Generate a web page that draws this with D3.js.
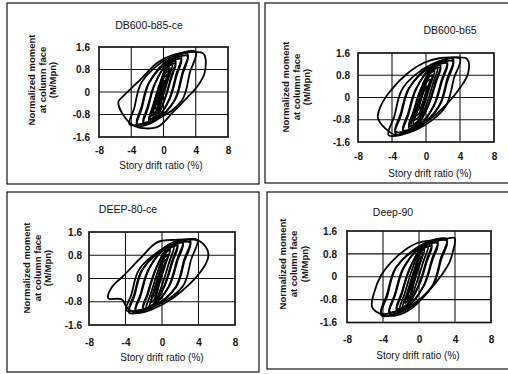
<!DOCTYPE html>
<html>
<head>
<meta charset="utf-8">
<script src="https://cdn.jsdelivr.net/npm/d3@7"></script>
<style>
  html, body { margin: 0; padding: 0; background: #fff; }
  svg { display: block; font-family: "Liberation Sans", Arial, sans-serif; }
</style>
</head>
<body>
<div id="chart"></div>
<script>
const xTicks = [-8, -4, 0, 4, 8]
const yTicks = [-1.6, -0.8, 0, 0.8, 1.6]
const xTickLabels = ['-8', '-4', '0', '4', '8']
const yTickLabels = ['-1.6', '-0.8', '0', '0.8', '1.6']
const titles = ['DB600-b85-ce', 'DB600-b65', 'DEEP-80-ce', 'Deep-90']
const yLabelLines = ['Normalized moment', 'at column face', '(M/Mpn)']
const xLabel = 'Story drift ratio (%)'

// hysteresis loops: [story drift %, M/Mpn], one array per cycle
const loopsB85ce = [
  [[0.15, 0.4], [-0.05, 0.2], [-0.35, -0.1], [-0.6, -0.35], [-0.85, -0.45], [-0.65, -0.2], [-0.35, 0.1], [-0.05, 0.35]],
  [[0.45, 0.6], [0.15, 0.3], [-0.3, -0.15], [-0.7, -0.51], [-1.1, -0.6], [-0.8, -0.3], [-0.35, 0.15], [0.05, 0.51]],
  [[0.65, 0.75], [0.3, 0.4], [-0.3, -0.2], [-0.8, -0.62], [-1.3, -0.75], [-0.95, -0.4], [-0.4, 0.2], [0.15, 0.63]],
  [[0.8, 0.85], [0.38, 0.43], [-0.26, -0.21], [-0.88, -0.72], [-1.5, -0.85], [-1.08, -0.43], [-0.44, 0.21], [0.18, 0.72]],
  [[1.1, 0.98], [0.62, 0.5], [-0.15, -0.24], [-0.85, -0.8], [-1.65, -0.95], [-1.15, -0.48], [-0.45, 0.25], [0.35, 0.85]],
  [[1.5, 1.1], [0.95, 0.55], [0.14, -0.26], [-0.83, -0.89], [-1.8, -1.05], [-1.28, -0.53], [-0.47, 0.28], [0.52, 0.94]],
  [[1.5, 1.02], [0.98, 0.5], [0.2, -0.22], [-0.8, -0.82], [-1.8, -0.98], [-1.3, -0.48], [-0.5, 0.24], [0.5, 0.88]],
  [[2.2, 1.25], [1.58, 0.63], [0.66, -0.29], [-0.92, -0.98], [-2.5, -1.15], [-1.93, -0.58], [-1.04, 0.31], [0.58, 1.06]],
  [[2.2, 1.17], [1.62, 0.58], [0.75, -0.26], [-0.9, -0.92], [-2.5, -1.07], [-1.96, -0.52], [-1.1, 0.28], [0.55, 1.0]],
  [[3.0, 1.35], [2.33, 0.68], [1.35, -0.3], [-0.98, -1.02], [-3.3, -1.2], [-2.7, -0.6], [-1.76, 0.34], [0.62, 1.15]],
  [[3.0, 1.28], [2.38, 0.64], [1.45, -0.27], [-0.95, -0.96], [-3.3, -1.12], [-2.75, -0.55], [-1.85, 0.3], [0.6, 1.08]],
  [[4.0, 1.42], [3.29, 0.71], [2.29, -0.29], [-0.96, -0.98], [-4.2, -1.15], [-3.63, -0.58], [-2.69, 0.36], [0.66, 1.21]],
  [[5.0, 1.35], [5.1, 0.68], [4.15, 0.18], [2.9, -0.21], [1.2, -0.71], [-0.8, -1.25], [-3.5, -1.22], [-4.8, -0.9], [-5.6, -0.35], [-5.0, -0.15], [-2.9, 0.43], [-0.8, 1.03], [1.2, 1.32], [3.3, 1.42]]
]
const loopsB65 = [
  [[0.2, 0.4], [0.0, 0.2], [-0.3, -0.1], [-0.6, -0.35], [-0.9, -0.45], [-0.7, -0.2], [-0.4, 0.1], [-0.05, 0.35]],
  [[0.5, 0.65], [0.18, 0.33], [-0.31, -0.16], [-0.76, -0.55], [-1.2, -0.65], [-0.88, -0.33], [-0.39, 0.16], [0.06, 0.55]],
  [[0.75, 0.8], [0.35, 0.4], [-0.25, -0.2], [-0.8, -0.68], [-1.35, -0.8], [-0.95, -0.4], [-0.35, 0.2], [0.2, 0.68]],
  [[1.0, 0.95], [0.53, 0.48], [-0.19, -0.24], [-0.85, -0.81], [-1.5, -0.95], [-1.03, -0.48], [-0.31, 0.24], [0.35, 0.81]],
  [[1.35, 1.05], [0.85, 0.53], [0.05, -0.26], [-0.85, -0.86], [-1.75, -1.02], [-1.25, -0.5], [-0.45, 0.27], [0.45, 0.9]],
  [[1.7, 1.15], [1.13, 0.58], [0.27, -0.28], [-0.87, -0.94], [-2.0, -1.1], [-1.45, -0.55], [-0.61, 0.29], [0.55, 0.98]],
  [[1.7, 1.07], [1.16, 0.53], [0.33, -0.25], [-0.85, -0.88], [-2.0, -1.03], [-1.48, -0.5], [-0.67, 0.26], [0.53, 0.92]],
  [[2.5, 1.3], [1.85, 0.65], [0.89, -0.31], [-0.91, -1.06], [-2.7, -1.25], [-2.08, -0.63], [-1.12, 0.33], [0.69, 1.11]],
  [[2.5, 1.22], [1.9, 0.6], [0.96, -0.28], [-0.88, -1.0], [-2.7, -1.17], [-2.12, -0.58], [-1.2, 0.3], [0.66, 1.05]],
  [[3.2, 1.38], [2.51, 0.69], [1.49, -0.33], [-1.06, -1.11], [-3.6, -1.3], [-2.95, -0.65], [-1.95, 0.35], [0.63, 1.17]],
  [[3.2, 1.3], [2.56, 0.64], [1.58, -0.3], [-1.0, -1.05], [-3.6, -1.22], [-3.0, -0.6], [-2.03, 0.32], [0.6, 1.1]],
  [[4.0, 1.4], [3.3, 0.7], [2.26, -0.34], [-1.07, -1.15], [-4.4, -1.35], [-3.73, -0.68], [-2.7, 0.35], [0.65, 1.19]],
  [[4.85, 1.38], [4.96, 0.87], [4.03, 0.36], [2.5, -0.22], [0.18, -0.84], [-2.16, -1.2], [-3.5, -1.35], [-4.73, -1.13], [-5.66, -0.73], [-5.3, -0.29], [-4.15, 0.25], [-2.16, 0.87], [-0.3, 1.24], [1.7, 1.42], [3.5, 1.44]]
]
const loopsDeep80ce = [
  [[0.2, 0.45], [-0.02, 0.22], [-0.35, -0.1], [-0.65, -0.38], [-0.9, -0.48], [-0.68, -0.22], [-0.38, 0.1], [-0.05, 0.38]],
  [[0.45, 0.65], [0.13, 0.33], [-0.36, -0.16], [-0.73, -0.55], [-1.1, -0.65], [-0.78, -0.33], [-0.29, 0.16], [0.08, 0.55]],
  [[0.65, 0.82], [0.25, 0.42], [-0.35, -0.2], [-0.8, -0.7], [-1.25, -0.82], [-0.85, -0.42], [-0.25, 0.2], [0.22, 0.7]],
  [[0.9, 1.0], [0.4, 0.5], [-0.35, -0.25], [-0.88, -0.85], [-1.4, -1.0], [-0.9, -0.5], [-0.15, 0.25], [0.38, 0.85]],
  [[1.3, 1.1], [0.78, 0.55], [-0.05, -0.27], [-0.92, -0.9], [-1.75, -1.05], [-1.22, -0.52], [-0.42, 0.28], [0.45, 0.95]],
  [[1.7, 1.2], [1.1, 0.6], [0.22, -0.28], [-0.94, -0.94], [-2.1, -1.1], [-1.55, -0.55], [-0.7, 0.3], [0.5, 1.02]],
  [[1.7, 1.12], [1.14, 0.55], [0.28, -0.26], [-0.92, -0.88], [-2.1, -1.03], [-1.58, -0.5], [-0.76, 0.27], [0.48, 0.96]],
  [[2.3, 1.3], [1.65, 0.65], [0.71, -0.29], [-1.1, -0.98], [-2.9, -1.15], [-2.33, -0.58], [-1.42, 0.33], [0.44, 1.11]],
  [[2.3, 1.22], [1.69, 0.6], [0.78, -0.27], [-1.05, -0.92], [-2.9, -1.08], [-2.36, -0.54], [-1.5, 0.3], [0.42, 1.04]],
  [[3.1, 1.32], [2.44, 0.66], [1.48, -0.3], [-1.06, -1.0], [-3.6, -1.18], [-3.01, -0.59], [-2.09, 0.33], [0.51, 1.12]],
  [[3.1, 1.24], [2.48, 0.62], [1.56, -0.28], [-1.02, -0.95], [-3.6, -1.1], [-3.05, -0.55], [-2.17, 0.31], [0.5, 1.05]],
  [[3.86, 1.32], [3.2, 0.66], [2.26, -0.28], [-0.82, -0.94], [-3.9, -1.1], [-3.35, -0.55], [-2.47, 0.33], [0.7, 1.12]],
  [[3.86, 1.32], [4.5, 1.2], [5.0, 0.97], [5.06, 0.73], [4.5, 0.35], [3.1, -0.17], [1.25, -0.66], [-0.93, -1.04], [-2.5, -1.18], [-3.75, -1.04], [-4.4, -0.72], [-5.9, -0.68], [-5.5, -0.3], [-4.2, 0.1], [-2.36, 0.7], [-0.5, 1.25], [1.5, 1.33]]
]
const loopsDeep90 = [
  [[-0.05, 0.45], [-0.25, 0.22], [-0.6, -0.12], [-0.9, -0.42], [-1.2, -0.52], [-0.98, -0.25], [-0.65, 0.1], [-0.3, 0.38]],
  [[0.3, 0.7], [-0.05, 0.35], [-0.59, -0.19], [-0.95, -0.64], [-1.3, -0.75], [-0.93, -0.38], [-0.37, 0.18], [-0.04, 0.6]],
  [[0.45, 0.85], [0.03, 0.43], [-0.6, -0.24], [-1.1, -0.78], [-1.55, -0.92], [-1.1, -0.46], [-0.45, 0.22], [0.0, 0.72]],
  [[0.6, 0.95], [0.13, 0.48], [-0.63, -0.28], [-1.24, -0.94], [-1.85, -1.1], [-1.3, -0.55], [-0.51, 0.24], [0.05, 0.81]],
  [[1.0, 1.05], [0.48, 0.53], [-0.35, -0.29], [-1.25, -0.98], [-2.15, -1.15], [-1.58, -0.58], [-0.75, 0.27], [0.12, 0.9]],
  [[1.4, 1.15], [0.83, 0.58], [-0.05, -0.3], [-1.28, -1.02], [-2.5, -1.2], [-1.9, -0.6], [-1.01, 0.29], [0.2, 0.98]],
  [[1.4, 1.07], [0.87, 0.53], [0.03, -0.28], [-1.24, -0.95], [-2.5, -1.12], [-1.94, -0.56], [-1.07, 0.27], [0.17, 0.92]],
  [[2.07, 1.25], [1.45, 0.63], [0.49, -0.33], [-1.41, -1.11], [-3.3, -1.3], [-2.65, -0.65], [-1.69, 0.31], [0.19, 1.06]],
  [[2.07, 1.17], [1.49, 0.58], [0.57, -0.3], [-1.37, -1.04], [-3.3, -1.22], [-2.69, -0.61], [-1.77, 0.29], [0.15, 1.0]],
  [[3.1, 1.32], [2.44, 0.66], [1.44, -0.34], [-1.38, -1.15], [-4.2, -1.35], [-3.53, -0.68], [-2.52, 0.33], [0.29, 1.12]],
  [[3.1, 1.25], [2.48, 0.62], [1.52, -0.31], [-1.34, -1.08], [-4.2, -1.27], [-3.57, -0.63], [-2.6, 0.31], [0.25, 1.06]],
  [[3.97, 1.35], [3.75, 0.86], [3.4, 0.51], [2.5, 0.05], [0.95, -0.55], [-0.84, -1.11], [-2.5, -1.35], [-4.0, -1.33], [-5.2, -1.07], [-4.98, -0.55], [-4.2, 0.05], [-3.08, 0.51], [-1.6, 0.93], [-0.17, 1.18], [1.73, 1.28], [3.0, 1.33]]
]

const W = 508, H = 374

// panel geometry (frame, plot box, label spots)
const panels = [
  { loops: loopsB85ce, frame: [7, 3, 259, 184], box: [99, 47, 228, 137], title: [149, 28.5], yLab: [32, 43, 53], yLabCy: 80, tickGapY: 9, tickPadX: 9.5, xLab: [161, 168.5] },
  { loops: loopsB65, frame: [265, 3, 512, 183], box: [358, 53, 494, 142], title: [450, 33.5], yLab: [286, 297, 307], yLabCy: 87, tickGapY: 8, tickPadX: 10.5, xLab: [430, 176.5] },
  { loops: loopsDeep80ce, frame: [7, 192, 259, 372], box: [89, 232, 235, 325], title: [128, 212.5], yLab: [27, 38, 48], yLabCy: 268, tickGapY: 7, tickPadX: 13.5, xLab: [162, 360.5] },
  { loops: loopsDeep90, frame: [267, 192, 512, 369], box: [347, 231, 491, 322.5], title: [393, 215.5], yLab: [283, 294, 305], yLabCy: 264, tickGapY: 10, tickPadX: 13, xLab: [418, 358.5] }
]

const svg = d3.select('#chart').append('svg')
  .attr('width', W).attr('height', H)
  .attr('viewBox', `0 0 ${W} ${H}`)

const ink = '#151515'

panels.forEach((p, i) => {
  const [fx0, fy0, fx1, fy1] = p.frame
  svg.append('rect')
    .attr('x', fx0).attr('y', fy0).attr('width', fx1 - fx0).attr('height', fy1 - fy0)
    .attr('fill', 'none').attr('stroke', ink).attr('stroke-width', 1.2)

  const [bx0, by0, bx1, by1] = p.box
  const x = d3.scaleLinear().domain([-8, 8]).range([bx0, bx1])
  const y = d3.scaleLinear().domain([-1.6, 1.6]).range([by1, by0])
  const g = svg.append('g')

  // grid
  g.append('g').selectAll('line')
    .data(xTicks.slice(1, -1)).join('line')
    .attr('x1', d => x(d)).attr('x2', d => x(d))
    .attr('y1', by0).attr('y2', by1)
    .attr('stroke', ink).attr('stroke-width', 1.1)
  g.append('g').selectAll('line')
    .data(yTicks.slice(1, -1)).join('line')
    .attr('x1', bx0).attr('x2', bx1)
    .attr('y1', d => y(d)).attr('y2', d => y(d))
    .attr('stroke', ink).attr('stroke-width', 1.1)

  // hysteresis loops
  const line = d3.line()
    .x(d => x(d[0])).y(d => y(d[1]))
    .curve(d3.curveCatmullRomClosed.alpha(0.5))
  g.append('g').selectAll('path')
    .data(p.loops).join('path')
    .attr('d', line)
    .attr('fill', 'none').attr('stroke', '#000')
    .attr('stroke-width', 1.8).attr('stroke-linejoin', 'round')

  g.append('rect')
    .attr('x', bx0).attr('y', by0).attr('width', bx1 - bx0).attr('height', by1 - by0)
    .attr('fill', 'none').attr('stroke', ink).attr('stroke-width', 1.7)

  // axes
  const ax = g.append('g').attr('transform', `translate(0,${by1})`)
    .call(d3.axisBottom(x).tickValues(xTicks).tickSize(0).tickPadding(p.tickPadX)
      .tickFormat((d, k) => xTickLabels[k]))
  const ay = g.append('g').attr('transform', `translate(${bx0},0)`)
    .call(d3.axisLeft(y).tickValues(yTicks).tickSize(0).tickPadding(p.tickGapY)
      .tickFormat((d, k) => yTickLabels[k]))
  ;[ax, ay].forEach(a => {
    a.select('.domain').remove()
    a.selectAll('text').attr('fill', ink).style('font-size', '10px').style('font-weight', 'bold')
      .style('font-family', '"Liberation Sans", Arial, sans-serif')
  })

  // titles and axis labels
  svg.append('text')
    .attr('x', p.title[0]).attr('y', p.title[1])
    .attr('text-anchor', 'middle').attr('fill', ink)
    .style('font-size', '10.5px')
    .text(titles[i])
  svg.append('text')
    .attr('x', p.xLab[0]).attr('y', p.xLab[1])
    .attr('text-anchor', 'middle').attr('fill', ink)
    .style('font-size', '10px')
    .text(xLabel)
  yLabelLines.forEach((t, k) => {
    svg.append('text')
      .attr('transform', `translate(${p.yLab[k]},${p.yLabCy}) rotate(-90)`)
      .attr('dy', '0.35em')
      .attr('text-anchor', 'middle').attr('fill', ink)
      .style('font-size', '9.5px').style('font-weight', 'bold')
      .text(t)
  })
})
</script>
</body>
</html>
